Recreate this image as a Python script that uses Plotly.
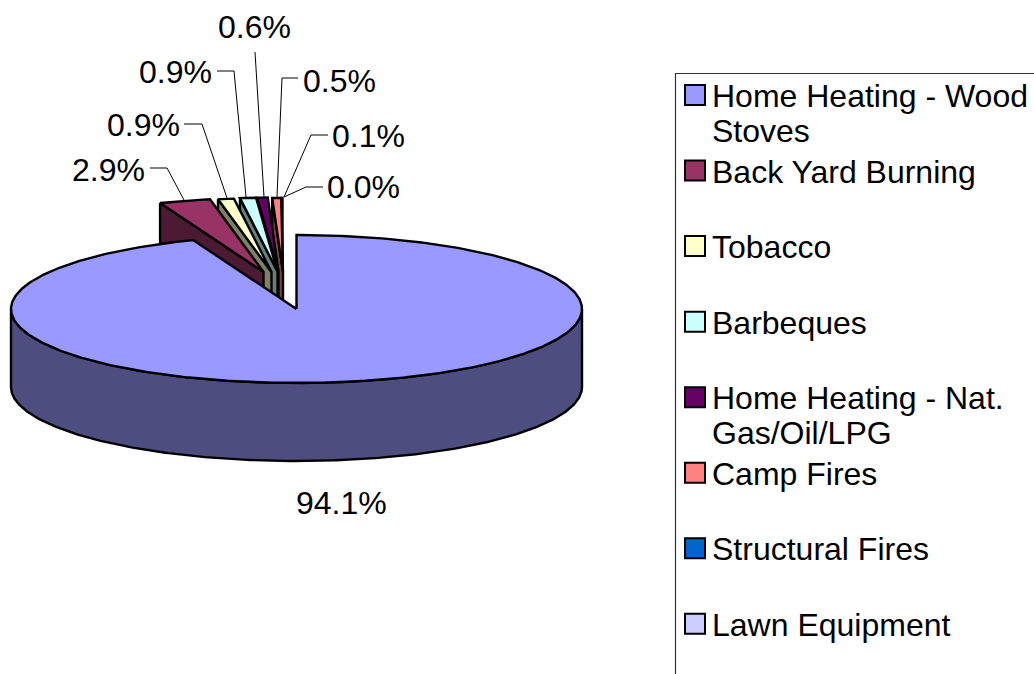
import math
import plotly.graph_objects as go

# ---- data ----
categories = ["Home Heating - Wood Stoves", "Back Yard Burning", "Tobacco", "Barbeques",
              "Home Heating - Nat. Gas/Oil/LPG", "Camp Fires", "Structural Fires", "Lawn Equipment"]
values = [94.1, 2.9, 0.9, 0.9, 0.6, 0.5, 0.1, 0.0]
value_labels = ["94.1%", "2.9%", "0.9%", "0.9%", "0.6%", "0.5%", "0.1%", "0.0%"]

# ---- styles ----
top_colors = ["#9999FF", "#993366", "#FFFFCC", "#CCFFFF", "#660066", "#FF8080", "#0066CC", "#CCCCFF"]
wall_colors = ["#4D4D80", "#4D1A33", "#808066", "#668080", "#330033", "#804040", "#003366", "#666680"]
FONT = "Liberation Sans, Arial, sans-serif"
FS = 32

# ---- projection of the tilted pie ----
CX, CY, RX, RY, DEPTH = 296.5, 309.0, 285.5, 74.0, 78.0
# explosion of the small slices (pie-layout parameters)
EXPLODE_DX = [0, -33, -25, -19, -18, -13.5, -14, -14]
EXPLODE_DY = [0, -37, -37, -37.5, -37.5, -37, -37, -37]


def rim(theta, cx=CX, cy=CY, dz=0.0):
    t = math.radians(theta)
    return cx + RX * math.sin(t), cy - RY * math.cos(t) + dz


def arc(a, b, cx=CX, cy=CY, dz=0.0):
    n = max(2, int(abs(b - a) * 1.5) + 1)
    return [rim(a + (b - a) * i / (n - 1), cx, cy, dz) for i in range(n)]


spans = []
acc = 0.0
total = sum(values)
for v in values:
    spans.append((acc * 3.6 * 100 / total, (acc + v) * 3.6 * 100 / total))
    acc += v

fig = go.Figure()


def poly(points, fill, width=2.4):
    xs = [p[0] for p in points] + [points[0][0]]
    ys = [p[1] for p in points] + [points[0][1]]
    fig.add_trace(go.Scatter(x=xs, y=ys, mode="lines", fill="toself", fillcolor=fill,
                             line=dict(color="#000000", width=width, shape="linear"),
                             hoverinfo="skip", showlegend=False))


# exploded slices, back to front (right to left)
for i in range(len(values) - 1, 0, -1):
    if values[i] <= 0:
        continue
    a, b = spans[i]
    ax, ay = CX + EXPLODE_DX[i], CY + EXPLODE_DY[i]
    s = rim(a, ax, ay)
    wall = [s, (ax, ay), (ax, ay + DEPTH), (s[0], s[1] + DEPTH)]
    poly(wall, wall_colors[i])
    poly([(ax, ay)] + arc(a, b, ax, ay), top_colors[i])

# main slice: curved front wall, then top
a, b = spans[0]
front = arc(90, 270)
poly(front + arc(270, 90, dz=DEPTH), wall_colors[0])
poly([(CX, CY)] + arc(a, b), top_colors[0])

# leader lines
leaders = [
    [(150, 168), (167, 168), (184, 200)],
    [(184, 124), (202, 124), (227, 198)],
    [(217, 71), (234, 71), (246, 197)],
    [(255, 52), (264, 197)],
    [(298, 78), (282, 78), (277, 197)],
    [(328, 135), (311, 135), (284, 197)],
    [(323, 187), (306, 187), (284, 197)],
]
for pts in leaders:
    fig.add_trace(go.Scatter(x=[p[0] for p in pts], y=[p[1] for p in pts], mode="lines",
                             line=dict(color="#000000", width=1), hoverinfo="skip", showlegend=False))

# data labels
label_pos = [(341, 503), (108.5, 170), (143.5, 125), (175.5, 72), (254.5, 27), (339, 81), (368.5, 136), (363, 187)]
annotations = []
for txt, (x, y) in zip(value_labels, label_pos):
    annotations.append(dict(x=x, y=y, text=txt, showarrow=False, xanchor="center", yanchor="middle",
                            font=dict(family=FONT, size=FS, color="#000000")))

# legend
legend_lines = [["Home Heating - Wood", "Stoves"], ["Back Yard Burning"], ["Tobacco"], ["Barbeques"],
                ["Home Heating - Nat.", "Gas/Oil/LPG"], ["Camp Fires"], ["Structural Fires"], ["Lawn Equipment"]]
LEG_Y0, LEG_STEP, LEG_LINE = 95.0, 75.55, 35.0
for i, (cat, lines) in enumerate(zip(categories, legend_lines)):
    y = LEG_Y0 + i * LEG_STEP
    fig.add_trace(go.Scatter(x=[695], y=[y], mode="markers", name=cat, hoverinfo="name", showlegend=False,
                             marker=dict(symbol="square", size=20, color=top_colors[i],
                                         line=dict(color="#000000", width=2))))
    for j, ln in enumerate(lines):
        annotations.append(dict(x=713, y=y + 1 + j * LEG_LINE, text=ln, showarrow=False, xanchor="left",
                                yanchor="middle", xshift=-3,
                                font=dict(family=FONT, size=FS, color="#000000")))

shapes = [dict(type="path", path="M 1034 73.5 L 675.5 73.5 L 675.5 674",
               line=dict(color="#333333", width=1.2))]

fig.update_layout(
    width=1034, height=674, margin=dict(l=0, r=0, t=0, b=0),
    paper_bgcolor="#FFFFFF", plot_bgcolor="#FFFFFF", showlegend=False,
    xaxis=dict(range=[0, 1034], visible=False, fixedrange=True),
    yaxis=dict(range=[674, 0], visible=False, fixedrange=True),
    annotations=annotations, shapes=shapes,
)
fig.write_html("out.html", config={"displayModeBar": False},
               post_script="document.body.style.margin='0';document.body.style.overflow='hidden';")
